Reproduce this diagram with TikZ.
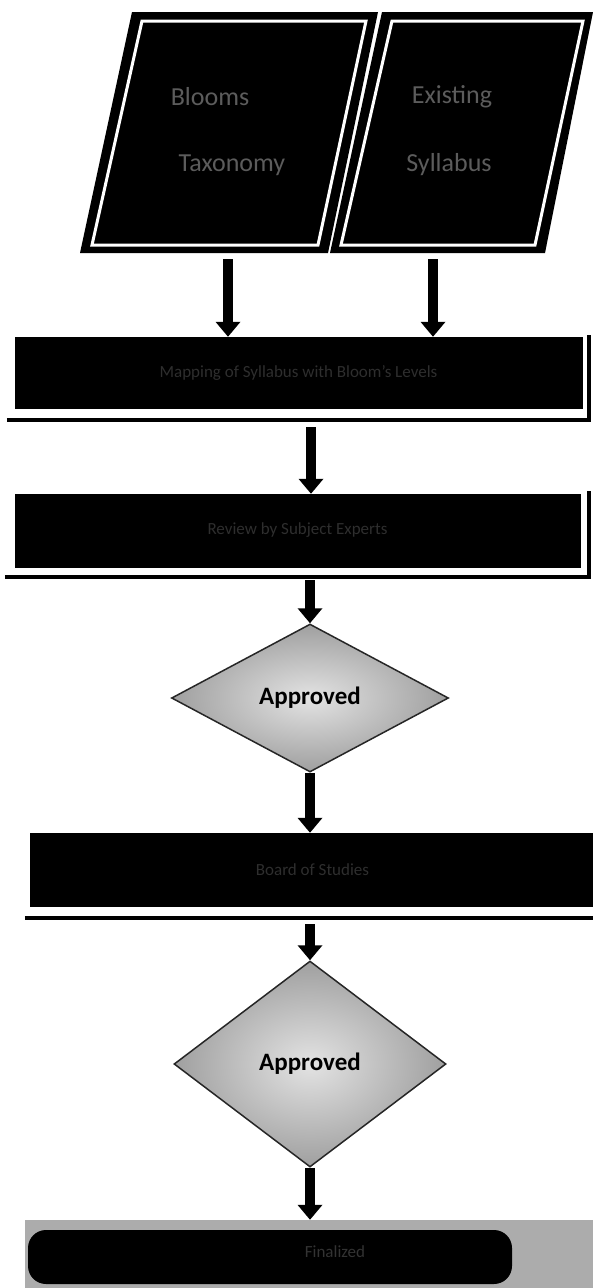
\documentclass[tikz,border=0pt]{standalone}
\usepackage{fontspec}
\setmainfont{Carlito}
\usetikzlibrary{arrows.meta,shapes.geometric,calc}

\begin{document}
\begin{tikzpicture}[x=1pt,y=-1pt,
  bar/.style={fill=black, draw=black, inner sep=0pt, text=black!82!white,
    font=\fontsize{17}{20}\selectfont},
  barshadow/.style={draw=black, line width=4pt, line join=miter},
  decision/.style={diamond, draw=black!85, line width=1.5pt, inner sep=0pt,
    inner color=gray!22, outer color=gray!75,
    font=\bfseries\fontsize{25}{28}\selectfont, text=black},
  flow/.style={draw=black, line width=10pt, -{Triangle[width=24pt,length=15pt]}},
  slab/.style={fill=black},
  slabline/.style={draw=white, line width=3pt, line join=miter},
  slabtext/.style={text=black!64, font=\fontsize{26}{30}\selectfont}
]
\useasboundingbox (0,0) rectangle (593,1288);

% two input slabs (parallelograms)
\fill[slab] (80,253) -- (328,253) -- (378,12) -- (132,12) -- cycle;
\draw[slabline] (92,245) -- (318,245) -- (366,21) -- (142,21) -- cycle;
\fill[slab] (330,253) -- (545,253) -- (593,12) -- (382,12) -- cycle;
\draw[slabline] (341,245) -- (535,245) -- (583,21) -- (392,21) -- cycle;

\node[slabtext] (t1) at (210,97) {Blooms};
\node[slabtext] (t2) at (232,165) {Taxonomy};
\node[slabtext] (t3) at (452,97) {Existing};
\node[slabtext] (t4) at (449,165) {Syllabus};

\coordinate (ls) at (228,259);
\coordinate (rs) at (433,259);

% process bars
\node[bar, minimum width=567pt, minimum height=71pt] (b1) at (298.5,372.5)
  {Mapping of Syllabus with Bloom's Levels};
\draw[barshadow] ([xshift=-8pt,yshift=-12pt]b1.south west)
  -- ([xshift=7pt,yshift=-12pt]b1.south east) -- ([xshift=7pt,yshift=2pt]b1.north east);

\node[bar, minimum width=565pt, minimum height=73pt] (b2) at (297.5,530.5)
  {Review by Subject Experts};
\draw[barshadow] ([xshift=-10pt,yshift=-10pt]b2.south west)
  -- ([xshift=9pt,yshift=-10pt]b2.south east) -- ([xshift=9pt,yshift=3pt]b2.north east);

\node[decision, minimum width=277pt, minimum height=148pt] (d1) at (310,698) {Approved};

\node[bar, minimum width=565pt, minimum height=73pt] (b3) at (312.5,869.5)
  {Board of Studies};
\draw[barshadow] ([xshift=-5pt,yshift=-12pt]b3.south west)
  -- ([xshift=5pt,yshift=-12pt]b3.south east);

\node[decision, minimum width=272pt, minimum height=206pt] (d2) at (310,1064) {Approved};

% final bar: grey frame with dark core
\node[fill=gray!65, inner sep=0pt, minimum width=568pt, minimum height=70pt] (b4) at (309,1255) {};
\fill[black, rounded corners=18pt] (28,1230) rectangle (512,1284);
\node[text=black!80!white, font=\fontsize{17}{20}\selectfont] (t5) at (335,1252) {Finalized};

% connectors
\draw[flow] (ls) -- (ls |- b1.north);
\draw[flow] (rs) -- (rs |- b1.north);
\coordinate (a1) at (311,427);
\draw[flow] (a1) -- (a1 |- b2.north);
\coordinate (a2) at (310,580);
\draw[flow] (a2) -- (d1.north);
\draw[flow] (d1.south) -- (d1.south |- b3.north);
\coordinate (a3) at (310,924);
\draw[flow] (a3) -- (d2.north);
\draw[flow] (d2.south) -- (d2.south |- b4.north);
\end{tikzpicture}
\end{document}
